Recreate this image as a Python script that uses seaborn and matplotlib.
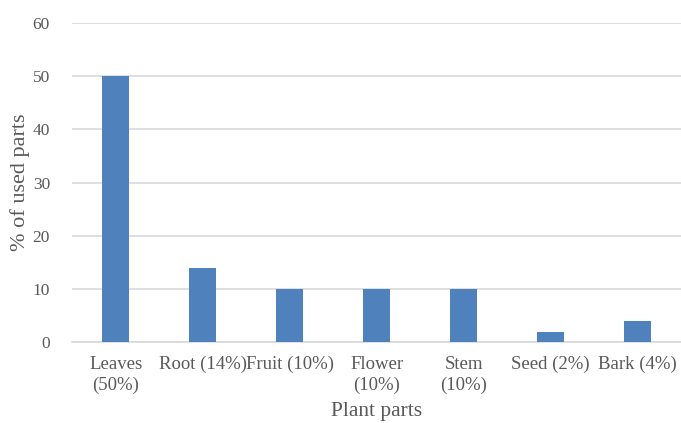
import pandas as pd
import matplotlib
matplotlib.use('Agg')
import matplotlib.pyplot as plt
import seaborn as sns

# Chart data
parts = ['Leaves\n(50%)', 'Root (14%)', 'Fruit (10%)', 'Flower\n(10%)', 'Stem\n(10%)', 'Seed (2%)', 'Bark (4%)']
percent = [50, 14, 10, 10, 10, 2, 4]

df = pd.DataFrame({'Plant parts': parts, 'Percent': percent})

sns.set_style('white')
plt.rcParams['font.family'] = ['Liberation Serif', 'DejaVu Serif']

fig = plt.figure(figsize=(6.81, 4.23), dpi=100)
ax = fig.add_axes([0.106, 0.191, 0.894, 0.755])

sns.barplot(x='Plant parts', y='Percent', data=df, color='#4f81bd', width=0.31,
            saturation=1, linewidth=0, ax=ax, zorder=3)

ax.set_ylim(0, 60)
ax.set_yticks(range(0, 61, 10))
ax.yaxis.grid(True, color='#d9d9d9', linewidth=1.2, zorder=0)
ax.set_axisbelow(True)
for s in ['top', 'right', 'left']:
    ax.spines[s].set_visible(False)
ax.spines['bottom'].set_color('#d9d9d9')
ax.spines['bottom'].set_linewidth(1.2)

ax.tick_params(axis='x', length=0, labelsize=13.5, labelcolor='#595959', pad=10)
ax.tick_params(axis='y', length=0, labelsize=12.5, labelcolor='#595959', pad=16)
for lbl in ax.get_xticklabels():
    lbl.set_linespacing(1.25)
ax.set_xlabel('Plant parts', fontsize=15.5, color='#595959', labelpad=6)
ax.set_ylabel('% of used parts', fontsize=16, color='#595959', labelpad=2)

fig.savefig('out.png', dpi=100)
